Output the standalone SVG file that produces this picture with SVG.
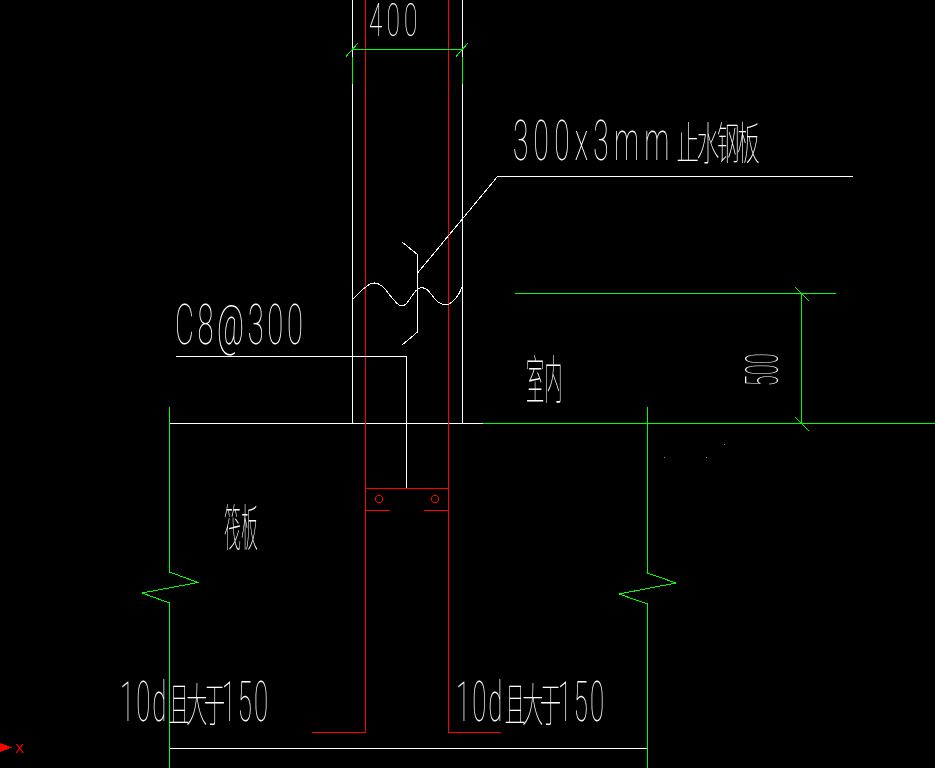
<svg xmlns="http://www.w3.org/2000/svg" width="935" height="768" viewBox="0 0 935 768">
<style>
path,circle{shape-rendering:crispEdges}
.w{stroke:#fff;fill:none;stroke-width:1}
.g{stroke:#0f0;fill:none;stroke-width:1}
.r{stroke:#f00;fill:none;stroke-width:1}
text{fill:#fff;font-family:Roboto,"Noto Sans CJK SC","Liberation Sans",sans-serif;font-weight:100;font-size:56px}
.c{font-family:"Noto Sans CJK SC",sans-serif;font-weight:100;font-size:46px;letter-spacing:0}
#labels,#axis{opacity:.99}
</style>
<rect width="935" height="768" fill="#000"/>
<g id="connectors">
<path class="w" d="M352.500 0V423.500M462.500 0V423.500M169.500 423.500H483.500M169.500 748.500H647.500"/>
<path class="r" d="M365.500 0V732.500H312M448.500 0V732.500H501"/>
<path class="g" d="M346 56.500L358 43M456 56.500L468 43M352.500 49.500H462.500"/>
<path class="g" style="stroke-width:1.600" d="M352.500 57V84M462.500 57V84"/>
<path class="g" d="M483 423.500H935M515 293.500H835.500M801.500 293.500V423.500M795 287L809 301M795 417L809 431"/>
<path class="g" d="M169.500 407V572L198 582.500L142 593L169.500 603V768"/>
<path class="g" d="M647.500 407V573L676 583L619 594L647.500 604V768"/>
<path class="w" d="M853 176.500H497.500L418 272.500"/>
<path class="w" d="M402 242L417.500 254.500V332L402 345"/>
<path class="w" d="M353 299C358 294 362 289 366 287C372 281 378 282 384 288C390 294 396 306 402 306C409 306 413 289 420 288C428 286 431 296 438 302C444 306 449 305 452 302C456 299 459 295 462 287"/>
<path class="w" d="M175.500 356.500H406.500V488.500"/>
</g>
<g id="steel-tie">
<path class="r" d="M365.500 488.500H448.500M365.500 510.500H390M424 510.500H448.500"/>
<circle class="r" cx="379" cy="499" r="3.500"/>
<circle class="r" cx="435" cy="499" r="3.500"/>
</g>
<g id="dots" fill="#888">
<rect x="724" y="444" width="1" height="1"/><rect x="664" y="457" width="1" height="1"/><rect x="706" y="457" width="1" height="1"/>
</g>
<g id="labels">
<text transform="translate(369,36) scale(.52,1)" style="font-size:47px;letter-spacing:8px">400</text>
<text transform="translate(513,160) scale(.5,1)" style="letter-spacing:10.500px">300x3mm<tspan class="c" dx="4" style="font-size:45px;letter-spacing:-4.500px">止水钢板</tspan></text>
<text transform="translate(175,344) scale(.52,1)" style="letter-spacing:7px">C8@300</text>
<text transform="translate(120,721) scale(.46,1)" style="letter-spacing:4.500px">10d<tspan class="c" style="letter-spacing:-7.500px">且大于</tspan>150</text>
<text transform="translate(456,721) scale(.46,1)" style="letter-spacing:4.500px">10d<tspan class="c" style="letter-spacing:-7.500px">且大于</tspan>150</text>
<text class="c" transform="translate(526,399) scale(.35,1)" style="font-size:52px">室内</text>
<text class="c" transform="translate(224,546) scale(.34,1)" style="font-size:50px">筏板</text>
<text transform="translate(778,386) rotate(-90) scale(.42,1)" style="font-size:46px;letter-spacing:1px">500</text>
</g>
<g id="axis">
<path d="M0 743L12 747.500L0 752Z" fill="#f00"/>
<text x="15" y="753" style="fill:#f00;font-family:'Liberation Sans',sans-serif;font-weight:400;font-size:13px">X</text>
</g>
</svg>
